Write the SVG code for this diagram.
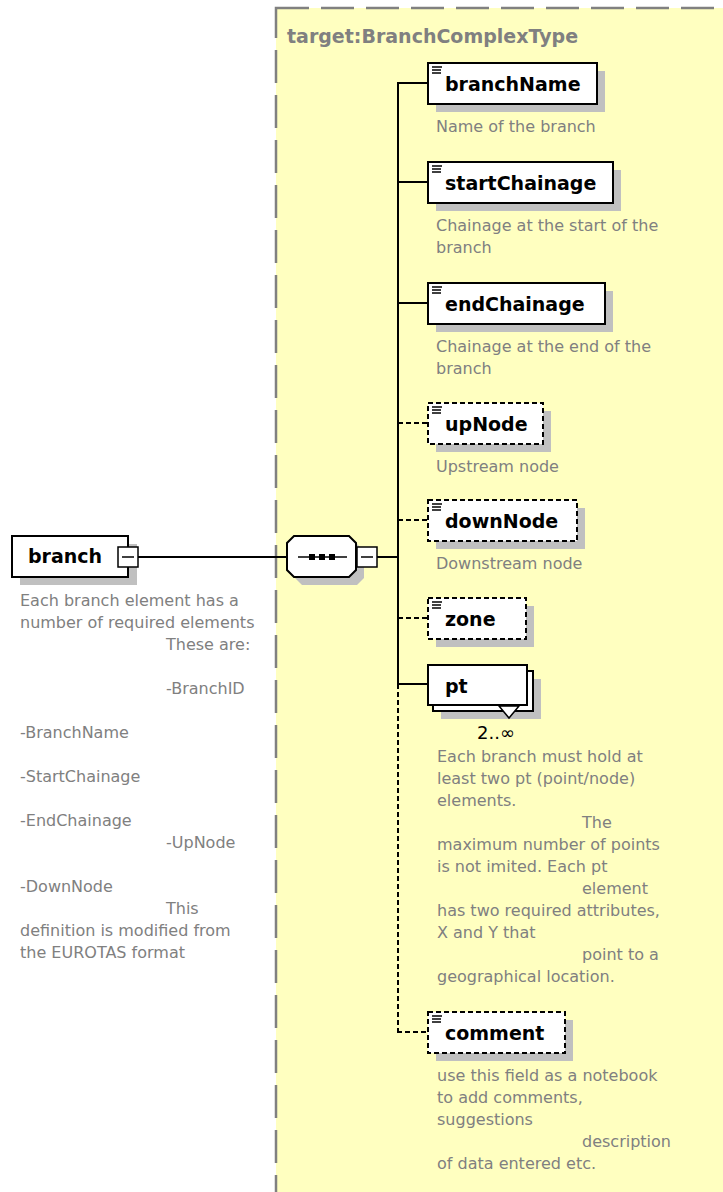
<svg xmlns="http://www.w3.org/2000/svg" width="723" height="1192" viewBox="0 0 723 1192">
  <style>
    .box { fill:#ffffff; stroke:#000000; stroke-width:2; }
    .opt { stroke-dasharray:5,3; }
    .shadow { fill:#c0c0c0; stroke:none; }
    .name { font-family:"DejaVu Sans", sans-serif; font-weight:bold; font-size:19px; fill:#000000; }
    .desc { font-family:"DejaVu Sans", sans-serif; font-size:16px; fill:#808080; }
    .title { font-family:"DejaVu Sans", sans-serif; font-weight:bold; font-size:19px; fill:#808080; }
    .conn { stroke:#000000; stroke-width:2; fill:none; }
    .dash { stroke-dasharray:5,3; }
    .ico { stroke:#000000; stroke-width:1.5; }
  </style>
  <defs>
    <!-- "simple content" glyph drawn in the corner of leaf elements -->
    <g id="leaf">
      <line class="ico" x1="0" y1="0" x2="10" y2="0"/>
      <line class="ico" x1="0" y1="3" x2="9" y2="3"/>
      <line class="ico" x1="0" y1="6" x2="9" y2="6"/>
    </g>
    <!-- collapse toggle -->
    <g id="minus">
      <rect x="0" y="0" width="20" height="20" fill="#ffffff" stroke="#000000" stroke-width="1.5"/>
      <line x1="4" y1="10" x2="16" y2="10" stroke="#000000" stroke-width="1.5"/>
    </g>
  </defs>

  <!-- complex type frame -->
  <g id="complexType">
    <rect x="276" y="8" width="470" height="1210" fill="#ffffc0" stroke="#808080" stroke-width="2.5" stroke-dasharray="33,12"/>
    <text class="title" x="287" y="43">target:BranchComplexType</text>
  </g>

  <!-- connectors -->
  <g id="connectors">
    <line class="conn" x1="138" y1="557" x2="287" y2="557"/>
    <line class="conn" x1="377" y1="557" x2="398" y2="557"/>
    <line class="conn" x1="398" y1="83" x2="398" y2="684"/>
    <line class="conn dash" x1="398" y1="684" x2="398" y2="1032"/>
    <line class="conn" x1="397" y1="83" x2="428" y2="83"/>
    <line class="conn" x1="398" y1="182" x2="428" y2="182"/>
    <line class="conn" x1="398" y1="303" x2="428" y2="303"/>
    <line class="conn dash" x1="398" y1="423" x2="428" y2="423"/>
    <line class="conn dash" x1="398" y1="520" x2="428" y2="520"/>
    <line class="conn dash" x1="398" y1="618" x2="428" y2="618"/>
    <line class="conn" x1="398" y1="684" x2="428" y2="684"/>
    <line class="conn dash" x1="397" y1="1032" x2="428" y2="1032"/>
  </g>

  <!-- root element -->
  <g id="branch">
    <rect class="shadow" x="20" y="544" width="117" height="41"/>
    <rect class="box" x="12" y="536" width="116" height="41"/>
    <text class="name" x="28" y="563">branch</text>
    <use href="#minus" x="118" y="547"/>
    <text class="desc" x="20" y="606">Each branch element has a</text>
    <text class="desc" x="20" y="628">number of required elements</text>
    <text class="desc" x="166" y="650">These are:</text>
    <text class="desc" x="166" y="694">-BranchID</text>
    <text class="desc" x="20" y="738">-BranchName</text>
    <text class="desc" x="20" y="782">-StartChainage</text>
    <text class="desc" x="20" y="826">-EndChainage</text>
    <text class="desc" x="166" y="848">-UpNode</text>
    <text class="desc" x="20" y="892">-DownNode</text>
    <text class="desc" x="166" y="914">This</text>
    <text class="desc" x="20" y="936">definition is modified from</text>
    <text class="desc" x="20" y="958">the EUROTAS format</text>
  </g>

  <!-- sequence compositor -->
  <g id="sequence">
    <polygon class="shadow" points="302,544 357,544 364,551 364,578 357,585 302,585 295,578 295,551"/>
    <polygon class="box" points="294,536 349,536 356,543 356,570 349,577 294,577 287,570 287,543"/>
    <line x1="298" y1="557" x2="347" y2="557" stroke="#000" stroke-width="1.5"/>
    <rect x="309" y="554" width="6" height="6" fill="#000"/>
    <rect x="319" y="554" width="6" height="6" fill="#000"/>
    <rect x="329" y="554" width="6" height="6" fill="#000"/>
    <use href="#minus" x="357" y="547"/>
  </g>

  <g id="branchName">
    <rect class="shadow" x="436" y="71" width="169" height="41"/>
    <rect class="box" x="428" y="63" width="169" height="41"/>
    <use href="#leaf" x="432" y="67"/>
    <text class="name" x="445" y="91">branchName</text>
    <text class="desc" x="436" y="132">Name of the branch</text>
  </g>

  <g id="startChainage">
    <rect class="shadow" x="436" y="170" width="185" height="41"/>
    <rect class="box" x="428" y="162" width="185" height="41"/>
    <use href="#leaf" x="432" y="166"/>
    <text class="name" x="445" y="190">startChainage</text>
    <text class="desc" x="436" y="231">Chainage at the start of the</text>
    <text class="desc" x="436" y="253">branch</text>
  </g>

  <g id="endChainage">
    <rect class="shadow" x="436" y="291" width="177" height="41"/>
    <rect class="box" x="428" y="283" width="177" height="41"/>
    <use href="#leaf" x="432" y="287"/>
    <text class="name" x="445" y="311">endChainage</text>
    <text class="desc" x="436" y="352">Chainage at the end of the</text>
    <text class="desc" x="436" y="374">branch</text>
  </g>

  <g id="upNode">
    <rect class="shadow" x="436" y="411" width="115" height="41"/>
    <rect class="box opt" x="428" y="403" width="115" height="41"/>
    <use href="#leaf" x="432" y="407"/>
    <text class="name" x="445" y="431">upNode</text>
    <text class="desc" x="436" y="472">Upstream node</text>
  </g>

  <g id="downNode">
    <rect class="shadow" x="436" y="508" width="149" height="41"/>
    <rect class="box opt" x="428" y="500" width="149" height="41"/>
    <use href="#leaf" x="432" y="504"/>
    <text class="name" x="445" y="528">downNode</text>
    <text class="desc" x="436" y="569">Downstream node</text>
  </g>

  <g id="zone">
    <rect class="shadow" x="436" y="606" width="98" height="41"/>
    <rect class="box opt" x="428" y="598" width="98" height="41"/>
    <use href="#leaf" x="432" y="602"/>
    <text class="name" x="445" y="626">zone</text>
  </g>

  <g id="pt">
    <rect class="shadow" x="441" y="679" width="100" height="40"/>
    <rect class="box" x="433" y="671" width="100" height="40"/>
    <rect class="box" x="428" y="665" width="99" height="40"/>
    <polygon points="499,706 519,706 509,718" fill="#ffffff" stroke="#000" stroke-width="1.5"/>
    <line x1="498" y1="705" x2="520" y2="705" stroke="#000" stroke-width="2"/>
    <text class="name" x="445" y="693">pt</text>
    <text x="477" y="739" font-family="DejaVu Sans, sans-serif" font-size="18px" fill="#000">2..∞</text>
    <text class="desc" x="437" y="762">Each branch must hold at</text>
    <text class="desc" x="437" y="784">least two pt (point/node)</text>
    <text class="desc" x="437" y="806">elements.</text>
    <text class="desc" x="582" y="828">The</text>
    <text class="desc" x="437" y="850">maximum number of points</text>
    <text class="desc" x="437" y="872">is not imited. Each pt</text>
    <text class="desc" x="582" y="894">element</text>
    <text class="desc" x="437" y="916">has two required attributes,</text>
    <text class="desc" x="437" y="938">X and Y that</text>
    <text class="desc" x="582" y="960">point to a</text>
    <text class="desc" x="437" y="982">geographical location.</text>
  </g>

  <g id="comment">
    <rect class="shadow" x="436" y="1020" width="137" height="41"/>
    <rect class="box opt" x="428" y="1012" width="137" height="41"/>
    <use href="#leaf" x="432" y="1016"/>
    <text class="name" x="445" y="1040">comment</text>
    <text class="desc" x="437" y="1081">use this field as a notebook</text>
    <text class="desc" x="437" y="1103">to add comments,</text>
    <text class="desc" x="437" y="1125">suggestions</text>
    <text class="desc" x="582" y="1147">description</text>
    <text class="desc" x="437" y="1169">of data entered etc.</text>
  </g>
</svg>
